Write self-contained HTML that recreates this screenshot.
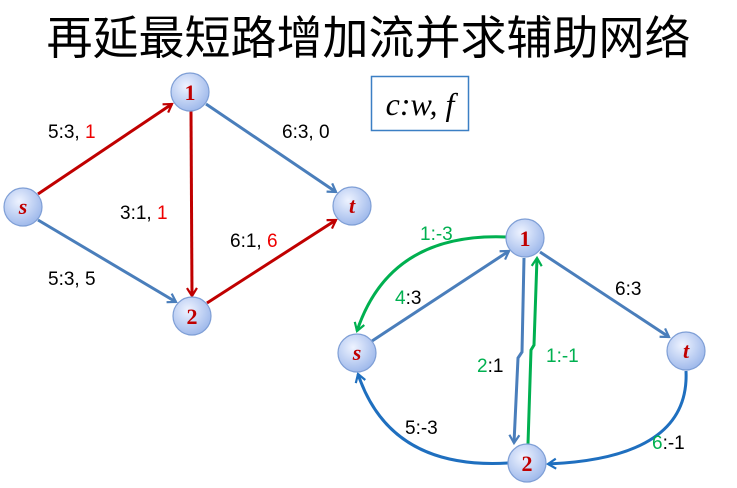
<!DOCTYPE html>
<html><head><meta charset="utf-8"><style>
body{margin:0;width:737px;height:488px;background:#fff;overflow:hidden;position:relative;font-family:"Liberation Sans",sans-serif}
.title{position:absolute;left:0;width:737px;top:10px;text-align:center;font-family:"Liberation Sans","Noto Sans CJK SC",sans-serif;font-size:46px;line-height:56px;color:#000;letter-spacing:0px}
</style></head><body>
<div class="title">再延最短路增加流并求辅助网络</div>
<svg width="737" height="488" style="position:absolute;left:0;top:0">
<defs>
<radialGradient id="g" cx="40%" cy="35%" r="70%"><stop offset="0" stop-color="#eef3ff"/><stop offset="1" stop-color="#9bb6ea"/></radialGradient>
<marker id="ar" markerWidth="12" markerHeight="12" refX="9" refY="6" orient="auto" markerUnits="userSpaceOnUse"><path d="M1,1 L9,6 L1,11" fill="none" stroke="#c00000" stroke-width="2.2"/></marker>
<marker id="ab" markerWidth="12" markerHeight="12" refX="9" refY="6" orient="auto" markerUnits="userSpaceOnUse"><path d="M1,1 L9,6 L1,11" fill="none" stroke="#4a7ebb" stroke-width="2.2"/></marker>
<marker id="ab2" markerWidth="12" markerHeight="12" refX="9" refY="6" orient="auto" markerUnits="userSpaceOnUse"><path d="M1,1 L9,6 L1,11" fill="none" stroke="#1f6fbf" stroke-width="2.2"/></marker>
<marker id="ag" markerWidth="12" markerHeight="12" refX="9" refY="6" orient="auto" markerUnits="userSpaceOnUse"><path d="M1,1 L9,6 L1,11" fill="none" stroke="#00b050" stroke-width="2.2"/></marker>
</defs>
<rect x="371.5" y="76.5" width="97" height="54" fill="#fff" stroke="#3b7fc4" stroke-width="1.5"/>
<text x="420" y="115" text-anchor="middle" font-family="Liberation Serif" font-style="italic" font-size="32">c:w, f</text>
<g stroke-width="3" fill="none">
<line x1="38" y1="194" x2="172" y2="104" stroke="#c00000" marker-end="url(#ar)"/>
<line x1="38" y1="220" x2="176" y2="302" stroke="#4a7ebb" marker-end="url(#ab)"/>
<line x1="191" y1="111" x2="192" y2="296" stroke="#c00000" marker-end="url(#ar)"/>
<line x1="206" y1="104" x2="336" y2="192" stroke="#4a7ebb" marker-end="url(#ab)"/>
<line x1="207" y1="303" x2="336" y2="220" stroke="#c00000" marker-end="url(#ar)"/>
<path d="M507,237 Q390,232 357,331" stroke="#00b050" marker-end="url(#ag)"/>
<line x1="372" y1="341" x2="509" y2="251" stroke="#4a7ebb" marker-end="url(#ab)"/>
<path d="M524,258 L522,352 L518,358 L514,443" stroke="#4a7ebb" marker-end="url(#ab)"/>
<path d="M528,444 L531,350 L534,345 L537,258" stroke="#00b050" marker-end="url(#ag)"/>
<line x1="540" y1="252" x2="669" y2="337" stroke="#4a7ebb" marker-end="url(#ab)"/>
<path d="M686,371 Q690,458 548,464" stroke="#1f6fbf" marker-end="url(#ab2)"/>
<path d="M508,463 Q390,470 358,374" stroke="#1f6fbf" marker-end="url(#ab2)"/>
</g>
<g stroke="#7f9fd6" stroke-width="1.2" fill="url(#g)">
<circle cx="23" cy="207" r="19"/><circle cx="190" cy="92" r="19"/><circle cx="352" cy="206" r="19"/><circle cx="192" cy="316" r="19"/>
<circle cx="525" cy="238" r="19"/><circle cx="357" cy="353" r="19"/><circle cx="686" cy="351" r="19"/><circle cx="527" cy="463" r="19"/>
</g>
<g font-family="Liberation Serif" font-weight="bold" font-style="italic" font-size="22" fill="#c00000" text-anchor="middle">
<text x="23" y="214">s</text><text x="190" y="100" font-style="normal">1</text><text x="352" y="213">t</text><text x="192" y="324" font-style="normal">2</text>
<text x="525" y="246" font-style="normal">1</text><text x="357" y="360">s</text><text x="686" y="358">t</text><text x="527" y="471" font-style="normal">2</text>
</g>
<g font-size="19" fill="#000">
<text x="48" y="138">5:3, <tspan fill="#e00">1</tspan></text>
<text x="282" y="138">6:3, 0</text>
<text x="120" y="219">3:1, <tspan fill="#e00">1</tspan></text>
<text x="230" y="247">6:1, <tspan fill="#e00">6</tspan></text>
<text x="48" y="285">5:3, 5</text>
<text x="420" y="240" fill="#00b050">1:-3</text>
<text x="395" y="304"><tspan fill="#00b050">4</tspan>:3</text>
<text x="615" y="295">6:3</text>
<text x="477" y="372"><tspan fill="#00b050">2</tspan>:1</text>
<text x="546" y="362" fill="#00b050">1:-1</text>
<text x="405" y="434">5:-3</text>
<text x="652" y="449"><tspan fill="#00b050">6</tspan>:-1</text>
</g>
</svg>
</body></html>
